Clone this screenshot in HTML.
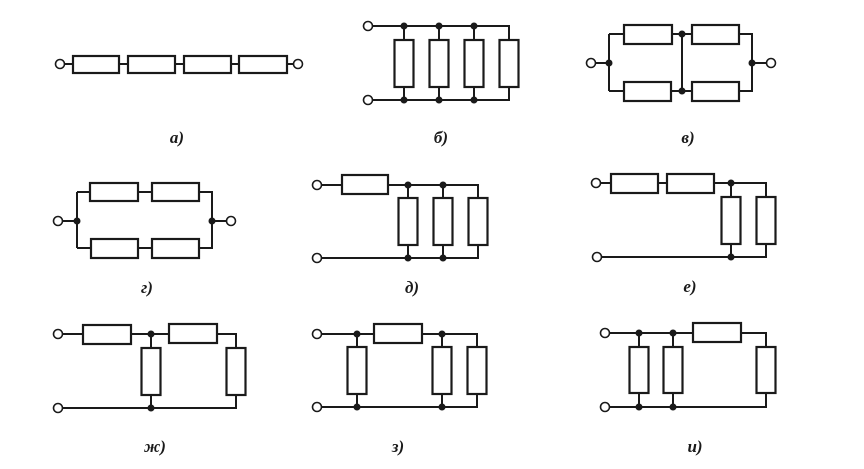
<!DOCTYPE html>
<html><head><meta charset="utf-8"><style>
html,body{margin:0;padding:0;background:#fff;width:864px;height:469px;overflow:hidden}
svg{display:block}
.w{stroke:#1a1a1a;stroke-width:2;fill:none}
.r{stroke:#1a1a1a;stroke-width:2.2;fill:#fff}
.t{stroke:#1a1a1a;stroke-width:1.6;fill:#fff}
.d{fill:#1a1a1a}
text{font-family:"Liberation Serif",serif;font-style:italic;font-weight:bold;font-size:17px;fill:#1a1a1a;text-anchor:middle}
</style></head><body>
<svg width="864" height="469" viewBox="0 0 864 469" xmlns="http://www.w3.org/2000/svg">
<!-- a -->
<path class="w" d="M60 64H298"/>
<rect class="r" x="73" y="56" width="46" height="17"/><rect class="r" x="128" y="56" width="47" height="17"/><rect class="r" x="184" y="56" width="47" height="17"/><rect class="r" x="239" y="56" width="48" height="17"/>
<circle class="t" cx="60" cy="64" r="4.5"/><circle class="t" cx="298" cy="64" r="4.5"/>
<text x="177" y="143">а)</text>
<!-- b -->
<path class="w" d="M368 26H509V100H368M404 26V100M439 26V100M474 26V100"/>
<rect class="r" x="394.5" y="40" width="19" height="47"/><rect class="r" x="429.5" y="40" width="19" height="47"/><rect class="r" x="464.5" y="40" width="19" height="47"/><rect class="r" x="499.5" y="40" width="19" height="47"/>
<g class="d"><circle cx="404" cy="26" r="3.5"/><circle cx="439" cy="26" r="3.5"/><circle cx="474" cy="26" r="3.5"/><circle cx="404" cy="100" r="3.5"/><circle cx="439" cy="100" r="3.5"/><circle cx="474" cy="100" r="3.5"/></g>
<circle class="t" cx="368" cy="26" r="4.5"/><circle class="t" cx="368" cy="100" r="4.5"/>
<text x="441" y="143">б)</text>
<!-- v -->
<path class="w" d="M591 63H609M609 34V91M609 34H752V91H609M682 34V91M752 63H771"/>
<rect class="r" x="624" y="25" width="48" height="19"/><rect class="r" x="692" y="25" width="47" height="19"/><rect class="r" x="624" y="82" width="47" height="19"/><rect class="r" x="692" y="82" width="47" height="19"/>
<g class="d"><circle cx="609" cy="63" r="3.5"/><circle cx="682" cy="34" r="3.5"/><circle cx="682" cy="91" r="3.5"/><circle cx="752" cy="63" r="3.5"/></g>
<circle class="t" cx="591" cy="63" r="4.5"/><circle class="t" cx="771" cy="63" r="4.5"/>
<text x="688" y="143">в)</text>
<!-- g -->
<path class="w" d="M58 221H77M77 192V248M77 192H212V248H77M212 221H231"/>
<rect class="r" x="90" y="183" width="48" height="18"/><rect class="r" x="152" y="183" width="47" height="18"/><rect class="r" x="91" y="239" width="47" height="19"/><rect class="r" x="152" y="239" width="47" height="19"/>
<g class="d"><circle cx="77" cy="221" r="3.5"/><circle cx="212" cy="221" r="3.5"/></g>
<circle class="t" cx="58" cy="221" r="4.5"/><circle class="t" cx="231" cy="221" r="4.5"/>
<text x="147" y="293">г)</text>
<!-- d -->
<path class="w" d="M317 185H478V258H317M408 185V258M443 185V258"/>
<rect class="r" x="342" y="175" width="46" height="19"/>
<rect class="r" x="398.5" y="198" width="19" height="47"/><rect class="r" x="433.5" y="198" width="19" height="47"/><rect class="r" x="468.5" y="198" width="19" height="47"/>
<g class="d"><circle cx="408" cy="185" r="3.5"/><circle cx="443" cy="185" r="3.5"/><circle cx="408" cy="258" r="3.5"/><circle cx="443" cy="258" r="3.5"/></g>
<circle class="t" cx="317" cy="185" r="4.5"/><circle class="t" cx="317" cy="258" r="4.5"/>
<text x="412" y="293">д)</text>
<!-- e -->
<path class="w" d="M596 183H766V257H597M731 183V257"/>
<rect class="r" x="611" y="174" width="47" height="19"/><rect class="r" x="667" y="174" width="47" height="19"/>
<rect class="r" x="721.5" y="197" width="19" height="47"/><rect class="r" x="756.5" y="197" width="19" height="47"/>
<g class="d"><circle cx="731" cy="183" r="3.5"/><circle cx="731" cy="257" r="3.5"/></g>
<circle class="t" cx="596" cy="183" r="4.5"/><circle class="t" cx="597" cy="257" r="4.5"/>
<text x="690" y="292">е)</text>
<!-- zh -->
<path class="w" d="M58 334H236V408H58M151 334V408"/>
<rect class="r" x="83" y="325" width="48" height="19"/><rect class="r" x="169" y="324" width="48" height="19"/>
<rect class="r" x="141.5" y="348" width="19" height="47"/><rect class="r" x="226.5" y="348" width="19" height="47"/>
<g class="d"><circle cx="151" cy="334" r="3.5"/><circle cx="151" cy="408" r="3.5"/></g>
<circle class="t" cx="58" cy="334" r="4.5"/><circle class="t" cx="58" cy="408" r="4.5"/>
<text x="155" y="452">ж)</text>
<!-- z -->
<path class="w" d="M317 334H477V407H317M357 334V407M442 334V407"/>
<rect class="r" x="374" y="324" width="48" height="19"/>
<rect class="r" x="347.5" y="347" width="19" height="47"/><rect class="r" x="432.5" y="347" width="19" height="47"/><rect class="r" x="467.5" y="347" width="19" height="47"/>
<g class="d"><circle cx="357" cy="334" r="3.5"/><circle cx="442" cy="334" r="3.5"/><circle cx="357" cy="407" r="3.5"/><circle cx="442" cy="407" r="3.5"/></g>
<circle class="t" cx="317" cy="334" r="4.5"/><circle class="t" cx="317" cy="407" r="4.5"/>
<text x="398" y="452">з)</text>
<!-- i -->
<path class="w" d="M605 333H766V407H605M639 333V407M673 333V407"/>
<rect class="r" x="693" y="323" width="48" height="19"/>
<rect class="r" x="629.5" y="347" width="19" height="46"/><rect class="r" x="663.5" y="347" width="19" height="46"/><rect class="r" x="756.5" y="347" width="19" height="46"/>
<g class="d"><circle cx="639" cy="333" r="3.5"/><circle cx="673" cy="333" r="3.5"/><circle cx="639" cy="407" r="3.5"/><circle cx="673" cy="407" r="3.5"/></g>
<circle class="t" cx="605" cy="333" r="4.5"/><circle class="t" cx="605" cy="407" r="4.5"/>
<text x="695" y="452">и)</text>
</svg>
</body></html>
